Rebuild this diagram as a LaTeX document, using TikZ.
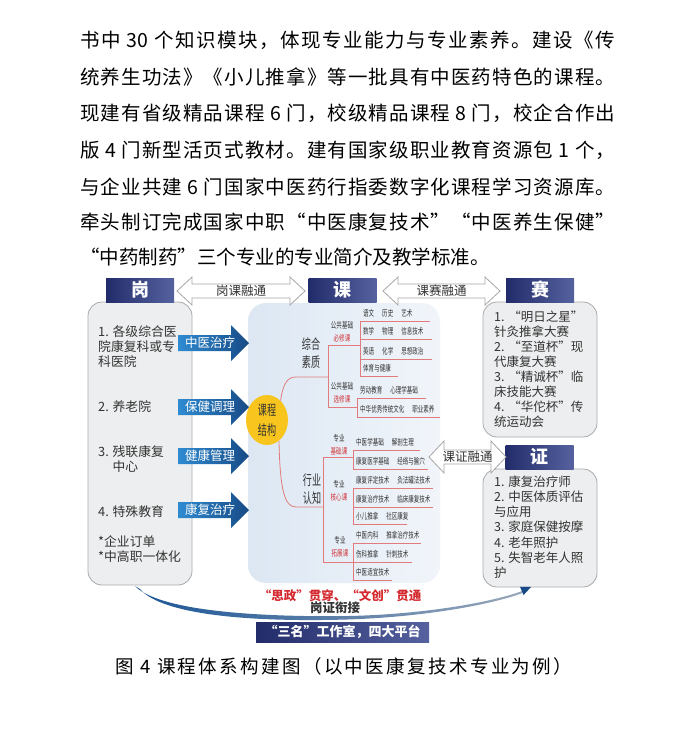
\documentclass[tikz,border=0pt]{standalone}
\usepackage{fontspec}
\setmainfont{Noto Sans CJK SC}
\newfontfamily\narrowfont{Noto Sans CJK SC}[FakeStretch=0.65]
\usetikzlibrary{arrows.meta,positioning,shapes.geometric}
\definecolor{navy}{HTML}{222C6A}
\definecolor{navylt}{HTML}{56629F}
\definecolor{armL}{HTML}{2F8BD0}
\definecolor{armR}{HTML}{174A86}
\definecolor{boxgray}{HTML}{EDEEEF}
\definecolor{boxline}{HTML}{A7AAAE}
\definecolor{mapred}{HTML}{E27B7B}
\definecolor{labred}{HTML}{D0343A}
\definecolor{coreyel}{HTML}{F7C51E}
\definecolor{panelA}{HTML}{DCE7F3}
\definecolor{panelB}{HTML}{F1F5FA}
\definecolor{slogan}{HTML}{D42A2F}
\definecolor{ink}{HTML}{333333}
\definecolor{curveL}{HTML}{1B5596}
\definecolor{curveR}{HTML}{9AA8BA}

\newcommand\fsz[2]{\fontsize{#1}{#2}\selectfont}
\newcommand\gp{\hspace{8pt}}
% spread the characters of one line over a fixed width
\def\spreadfirst#1{#1\spreadrest}
\def\spreadrest#1{\ifx#1\relax\else\hfil#1\expandafter\spreadrest\fi}
\newcommand\spreadline[2]{\makebox[#1][s]{\spreadfirst#2\relax}}

\tikzset{
 headbox/.style={minimum width=68pt,minimum height=24pt,inner sep=0pt,left color=navy,right color=navylt,text=white,font=\fsz{18}{18}\bfseries},
 infobox/.style={fill=boxgray,draw=boxline,line width=0.8pt,rounded corners=14pt,inner sep=0pt},
 panel/.style={rounded corners=18pt,left color=panelA,right color=panelB,inner sep=0pt},
 boxtext/.style={anchor=north west,inner sep=0pt,align=left,text=ink,font=\fsz{12.8}{15}},
 linkline/.style={draw=gray!70,fill=white,line width=0.8pt},
 linktext/.style={inner sep=0pt,text=ink,font=\fsz{12.5}{12.5}},
 armtext/.style={inner sep=0pt,text=white,font=\fsz{12.5}{12.5}},
 mapline/.style={mapred,line width=0.8pt},
 core/.style={ellipse,fill=coreyel,minimum width=42pt,minimum height=50pt,inner sep=0pt,align=center,text=ink,font=\narrowfont\fsz{14}{20}},
 lvone/.style={inner sep=0pt,align=center,text=ink,font=\narrowfont\fsz{14}{18}},
 grouplab/.style={inner sep=0pt,align=center,text=ink,font=\narrowfont\fsz{8.5}{13}},
 rowtext/.style={anchor=west,inner sep=0pt,text=ink,font=\narrowfont\fsz{8.5}{9}},
 paraline/.style={anchor=west,inner sep=0pt,font=\fsz{19.5}{20}}
}

% hollow two-way arrow with its label
\newcommand\linkarrow[6]{%
 \draw[linkline] (#2,#4) -- (#2+15,#4-#5) -- (#2+15,#4-7) -- (#3-15,#4-7) -- (#3-15,#4-#5) -- (#3,#4)
  -- (#3-15,#4+#5) -- (#3-15,#4+7) -- (#2+15,#4+7) -- (#2+15,#4+#5) -- cycle;
 \node[linktext] (#1) at ({(#2+#3)/2},#4) {#6};}
% blue arrow from the job box into the panel
\newcommand\jobarrow[3]{%
 \shade[left color=armL,right color=armR] (178,#2-8) -- (231,#2-8) -- (231,#2-18) -- (249,#2)
  -- (231,#2+18) -- (231,#2+8) -- (178,#2+8) -- cycle;
 \node[armtext] (#1) at (210,#2) {#3};}
% one group of course rows with their lines
\newcommand\maprows[3]{%
 \foreach \ly/\lx/\txt [count=\i] in {#3}{
  \draw[mapline] (#1,\ly) -- (\lx,\ly);
  \node[rowtext] (#2\i) at (#1+3,\ly-7.5) {\txt};}}

\begin{document}
\begin{tikzpicture}[x=1pt,y=-1pt]
\useasboundingbox (0,0) rectangle (700,734);
\fill[white] (0,0) rectangle (700,734);

% text above the figure
\node[paraline] (p1) at (80,40) {\spreadline{535pt}{书中{\ 30\ }个知识模块，体现专业能力与专业素养。建设《传}};
\node[paraline] (p2) at (80,77) {\spreadline{535pt}{统养生功法》《小儿推拿》等一批具有中医药特色的课程。}};
\node[paraline] (p3) at (80,113) {\spreadline{535pt}{现建有省级精品课程{\ 6\ }门，校级精品课程{\ 8\ }门，校企合作出}};
\node[paraline] (p4) at (80,150) {\spreadline{535pt}{版{\ 4\ }门新型活页式教材。建有国家级职业教育资源包{\ 1\ }个，}};
\node[paraline] (p5) at (80,187) {\spreadline{535pt}{与企业共建{\ 6\ }门国家中医药行指委数字化课程学习资源库。}};
\node[paraline] (p6) at (80,222) {\spreadline{535pt}{牵头制订完成国家中职“中医康复技术”“中医养生保健”}};
\node[paraline] (p7) at (80,257) {“中药制药”三个专业的专业简介及教学标准。};

% boxes
\node[panel,minimum width=192pt,minimum height=280pt] (panel) at (344,443) {};
\node[infobox,minimum width=104pt,minimum height=283pt] (gangbox) at (140,443.5) {};
\node[infobox,minimum width=114pt,minimum height=135pt] (saibox) at (540,369.5) {};
\node[infobox,minimum width=114pt,minimum height=118pt] (zhengbox) at (540,528) {};

% 岗
\node[boxtext] (g1) at (98,325) {1. 各级综合医\\院康复科或专\\科医院};
\node[boxtext] (g2) at (98,400.5) {2. 养老院};
\node[boxtext] (g3) at (98,445.5) {3. 残联康复\\\phantom{3. }中心};
\node[boxtext] (g4) at (98,505.5) {4. 特殊教育};
\node[boxtext] (g5) at (98,535.5) {*企业订单\\*中高职一体化};

\jobarrow{zy}{343}{中医治疗}
\jobarrow{bj}{407}{保健调理}
\jobarrow{jk}{456}{健康管理}
\jobarrow{kf}{510}{康复治疗}

% 赛 and 证
\node[boxtext,font=\fsz{12.5}{15}] (s1) at (494,310.5) {1. “明日之星”\\针灸推拿大赛\\2. “至道杯”现\\代康复大赛\\3. “精诚杯”临\\床技能大赛\\4. “华佗杯”传\\统运动会};
\node[boxtext,font=\fsz{12.5}{15.2}] (z1) at (494,475.5) {1. 康复治疗师\\2. 中医体质评估\\与应用\\3. 家庭保健按摩\\4. 老年照护\\5. 失智老年人照\\护};

% course map
\node[core] (core) at (267,420) {课程\\结构};
\node[lvone] (zhsz) at (311,353) {综合\\素质};
\node[lvone] (hyrz) at (312,489) {行业\\认知};
\draw[mapline] (core.55) .. controls (283,384) and (287,377) .. (296,377) -- (328,377);
\draw[mapline] (core.-60) .. controls (280,492) and (285,507) .. (296,507) -- (323,507);
\draw[mapline] (360,345) -- (328,345) -- (328,407) -- (357,407);
\draw[mapline] (353,457) -- (323,457) -- (323,562) -- (353,562);

\node[grouplab] (bxlab) at (342,331.5) {公共基础\\\textcolor{labred}{必修课}};
\node[grouplab] (xxlab) at (342,393) {公共基础\\\textcolor{labred}{选修课}};
\node[grouplab] (jclab) at (339,444.5) {专业\\\textcolor{labred}{基础课}};
\node[grouplab] (hxlab) at (339,491) {专业\\\textcolor{labred}{核心课}};
\node[grouplab] (tzlab) at (340,546.5) {专业\\\textcolor{labred}{拓展课}};

\draw[mapline] (360,321) -- (360,376);
\draw[mapline] (357,398) -- (357,417);
\draw[mapline] (353,450) -- (353,469);
\draw[mapline] (353,488) -- (353,524);
\draw[mapline] (353,543) -- (353,580);
\maprows{360}{bx}{321/430/语文\gp 历史\gp 艺术, 339/432/数学\gp 物理\gp 信息技术, 359/432/英语\gp 化学\gp 思想政治, 376/398/体育与健康}
\maprows{357}{xx}{398/426/劳动教育\gp 心理学基础, 417/440/中华优秀传统文化\gp 职业素养}
\maprows{353}{jc}{450/420/中医学基础\gp 解剖生理, 469/428/康复医学基础\gp 经络与腧穴}
\maprows{353}{hx}{488/433/康复评定技术\gp 灸法罐法技术, 507/433/康复治疗技术\gp 临床康复技术, 524/407/小儿推拿\gp 社区康复}
\maprows{353}{tz}{543/421/中医内科\gp 推拿治疗技术, 562/412/伤科推拿\gp 针刺技术, 580/392/中医适宜技术}

% headers and links
\node[headbox] (gang) at (140,290) {岗};
\node[headbox] (ke) at (342.5,290) {课};
\node[headbox] (sai) at (540,290) {赛};
\node[headbox] (zheng) at (539.5,457) {证};
\linkarrow{gk}{177}{305}{291}{14}{岗课融通}
\linkarrow{ks}{383}{500}{291}{14}{课赛融通}
\linkarrow{kz}{429}{506}{457}{16}{课证融通}

% bottom sweep from 岗 to 证
\shade[left color=curveL,right color=curveR] (135,586) .. controls (158,610) and (250,616.5) .. (335,616.2)
 .. controls (420,615.7) and (494,602) .. (524,590.3) -- (525.5,591.8)
 .. controls (496,604) and (420,618.3) .. (335,619.8) .. controls (250,621.5) and (162,615) .. (140,589) -- cycle;
\fill[armR] (531,587) -- (523.6,595) -- (520,586.8) -- cycle;
\node[inner sep=0pt,text=slogan,font=\fsz{12.5}{13}\bfseries] (szwc) at (340,596) {“思政”贯穿、“文创”贯通};
\node[inner sep=0pt,text=ink,font=\fsz{12.5}{13}\bfseries] (gzxj) at (335,608) {岗证衔接};
\node[inner sep=0pt,minimum width=173pt,minimum height=20pt,left color=navy,right color=navylt,text=white,font=\fsz{13}{14}\bfseries] (sm) at (342.5,632) {“三名”工作室，四大平台};

% caption
\node[anchor=west,inner sep=0pt,font=\fsz{18.5}{20}] (cap) at (115,666) {\spreadline{457pt}{图{\ 4\ }课程体系构建图（以中医康复技术专业为例）}};
\end{tikzpicture}
\end{document}
